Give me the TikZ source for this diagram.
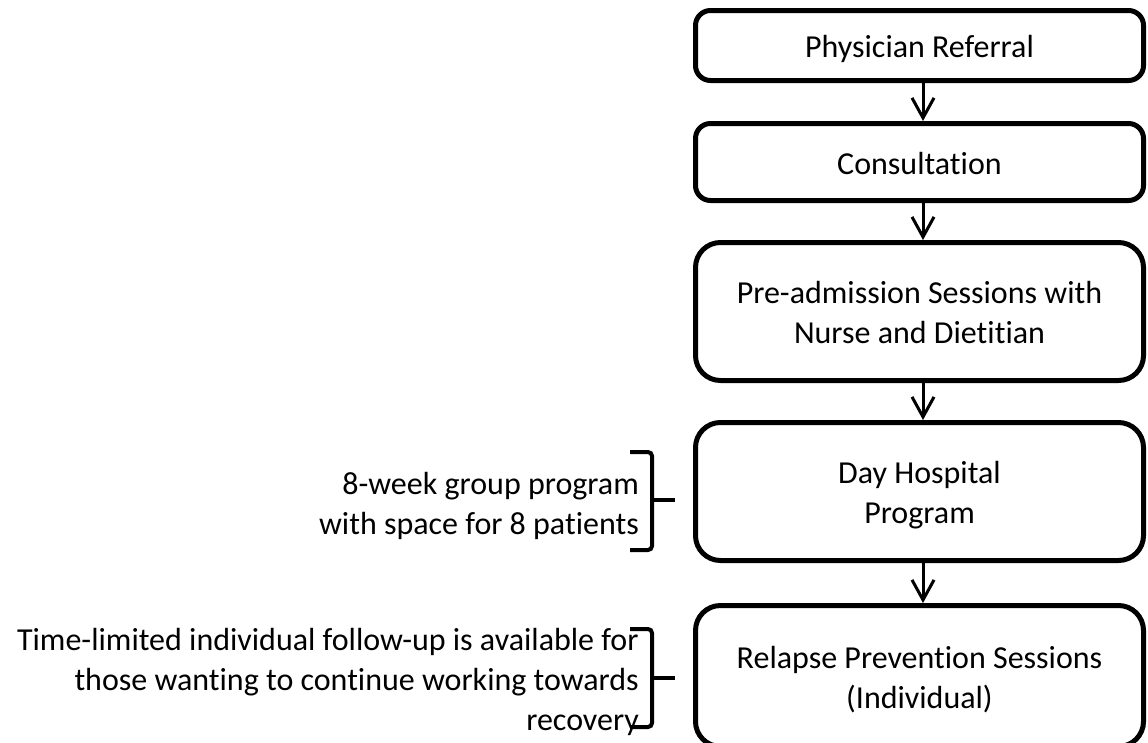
\documentclass[tikz,border=0pt]{standalone}
\usepackage{fontspec}
\setmainfont{Carlito}[Ligatures=NoCommon]
\usetikzlibrary{arrows.meta}
\newcommand\lnstrut{\rule[-8pt]{0pt}{40pt}}
\begin{document}
\begin{tikzpicture}[x=1pt,y=-1pt,
  box/.style={draw, line width=5pt, minimum width=448pt, align=center,
    font=\fontsize{32}{40}\selectfont, inner sep=0pt},
  arr/.style={line width=3pt, -{Straight Barb[length=20pt,width=22pt,line width=3pt]}},
  brk/.style={line width=4pt, rounded corners=4pt},
  note/.style={align=right, font=\fontsize{32}{40}\selectfont, anchor=east, inner sep=0pt}]
\useasboundingbox (0,0) rectangle (1148,742);
\node[box, minimum height=70pt, rounded corners=15pt] (b1) at (919.5,45.5) {\lnstrut Physician Referral};
\node[box, minimum height=77pt, rounded corners=15pt] (b2) at (919.5,162) {\lnstrut Consultation};
\node[box, minimum height=138pt, rounded corners=25pt] (b3) at (919.5,311.5) {\lnstrut Pre-admission Sessions with\\\lnstrut Nurse and Dietitian};
\node[box, minimum height=138pt, rounded corners=25pt] (b4) at (919.5,491.5) {\lnstrut Day Hospital\\\lnstrut Program};
\node[box, minimum height=141pt, rounded corners=25pt] (b5) at (919.5,676) {\lnstrut Relapse Prevention Sessions\\\lnstrut (Individual)};
\coordinate (ax) at (923,0);
\draw[arr] (b1.south -| ax) -- (b2.north -| ax);
\draw[arr] (b2.south -| ax) -- (b3.north -| ax);
\draw[arr] (b3.south -| ax) -- (b4.north -| ax);
\draw[arr] (b4.south -| ax) -- (b5.north -| ax);
\node[note] (n1) at (639,502) {\lnstrut 8-week group program\\\lnstrut with space for 8 patients};
\node[note] (n2) at (639,678) {\lnstrut Time-limited individual follow-up is available for\\\lnstrut those wanting to continue working towards\\\lnstrut recovery};
\draw[brk] (630,452) -- (652,452) -- (652,550) -- (630,550);
\draw[brk] (652,500) -- (675,500);
\draw[brk] (630,629) -- (652,629) -- (652,727) -- (630,727);
\draw[brk] (652,678) -- (675,678);
\end{tikzpicture}
\end{document}
